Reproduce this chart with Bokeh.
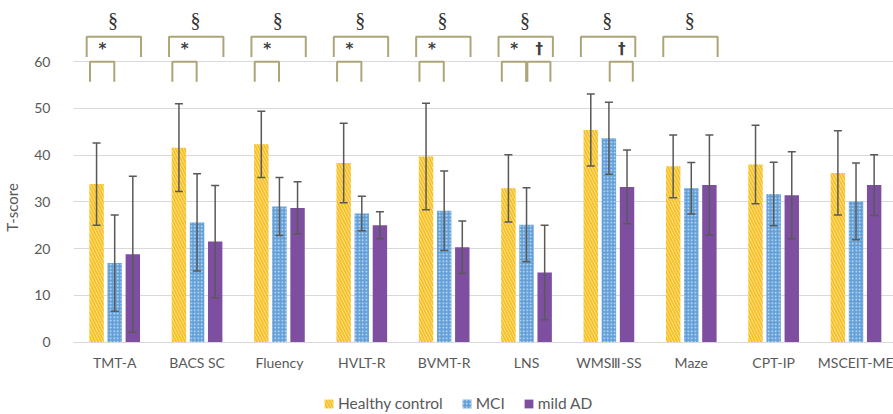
from bokeh.plotting import figure
from bokeh.models import (ColumnDataSource, Range1d, FixedTicker, Whisker, TeeHead,
                          Legend, LegendItem)
from bokeh.core.properties import value
from bokeh.embed import file_html
from bokeh.resources import INLINE

categories = ["TMT-A", "BACS SC", "Fluency", "HVLT-R", "BVMT-R", "LNS",
              "WMSⅢ-SS", "Maze", "CPT-IP", "MSCEIT-ME"]
hc = [33.8, 41.6, 42.3, 38.3, 39.7, 32.9, 45.4, 37.6, 38.0, 36.2]
hc_sd = [8.8, 9.4, 7.1, 8.5, 11.4, 7.2, 7.7, 6.7, 8.4, 9.0]
mci = [16.9, 25.6, 29.0, 27.5, 28.1, 25.1, 43.6, 32.9, 31.7, 30.1]
mci_sd = [10.3, 10.4, 6.2, 3.7, 8.5, 7.9, 7.7, 5.5, 6.8, 8.2]
ad = [18.8, 21.5, 28.7, 25.0, 20.3, 14.9, 33.2, 33.6, 31.4, 33.6]
ad_sd = [16.7, 12.0, 5.6, 2.9, 5.6, 10.1, 7.9, 10.7, 9.3, 6.5]
sig_hc_ad = [1, 1, 1, 1, 1, 1, 1, 1, 0, 0]    # §
sig_hc_mci = [1, 1, 1, 1, 1, 1, 0, 0, 0, 0]   # *
sig_mci_ad = [0, 0, 0, 0, 0, 1, 1, 0, 0, 0]   # †
yticks = [0, 10, 20, 30, 40, 50, 60]

FONT = "Lato"
GRAY = "#595959"
BR = "#ADA57A"

p = figure(width=893, height=414, x_range=Range1d(-0.5, 9.455), y_range=Range1d(-15.49, 73.08),
           output_backend="svg", toolbar_location=None,
           min_border_left=70, min_border_right=0, min_border_top=0, min_border_bottom=0)
p.outline_line_color = None
p.xgrid.visible = False
p.ygrid.ticker = FixedTicker(ticks=yticks)
p.ygrid.grid_line_color = "#d9d9d9"
p.ygrid.grid_line_width = 1

p.yaxis.ticker = FixedTicker(ticks=yticks)
p.yaxis.axis_line_color = None
p.yaxis.major_tick_line_color = None
p.yaxis.minor_tick_line_color = None
p.yaxis.major_label_standoff = 17
p.yaxis.axis_label = "T-score"
p.yaxis.axis_label_standoff = 10
p.yaxis.axis_label_text_font = FONT
p.yaxis.axis_label_text_font_size = "15px"
p.yaxis.axis_label_text_font_style = "normal"
p.yaxis.axis_label_text_color = GRAY

idx = list(range(len(categories)))
p.xaxis.fixed_location = 0
p.xaxis.ticker = FixedTicker(ticks=idx)
p.xaxis.major_label_overrides = {i: c for i, c in zip(idx, categories)}
p.xaxis.axis_line_color = "#d9d9d9"
p.xaxis.major_tick_line_color = None
p.xaxis.minor_tick_line_color = None
p.xaxis.major_label_standoff = 6
for ax in (p.xaxis, p.yaxis):
    ax.major_label_text_font = FONT
    ax.major_label_text_font_size = "14px"
    ax.major_label_text_color = GRAY

W = 0.175
OFF = 0.22
series = [
    ("Healthy control", hc, hc_sd, -OFF, dict(fill_color="#FFF3C8", hatch_pattern="\\", hatch_color="#F6C22A", hatch_scale=6, hatch_weight=2.2)),
    ("MCI", mci, mci_sd, 0.0, dict(fill_color="#629FD8", hatch_pattern=".", hatch_color="#D2E4F6", hatch_scale=3.5, hatch_weight=1.6)),
    ("mild AD", ad, ad_sd, OFF, dict(fill_color="#7E4FA0")),
]
items = []
for name, vals, sds, off, style in series:
    src = ColumnDataSource(dict(
        x=[i + off for i in idx], top=vals,
        upper=[v + s for v, s in zip(vals, sds)],
        lower=[v - s for v, s in zip(vals, sds)]))
    r = p.vbar(x="x", top="top", width=W, source=src, line_color=None, **style)
    items.append(LegendItem(label=name, renderers=[r]))
    wk = Whisker(base="x", upper="upper", lower="lower", source=src,
                 line_color=GRAY, line_width=1.5, level="overlay",
                 upper_head=TeeHead(size=8, line_color=GRAY, line_width=1.5),
                 lower_head=TeeHead(size=8, line_color=GRAY, line_width=1.5))
    p.add_layout(wk)

# significance brackets
xs, ys = [], []
sx, sy, st = [], [], []
ax_, ay_, at_ = [], [], []
for i in idx:
    if sig_hc_ad[i]:
        xs.append([i - 0.34, i - 0.34, i + 0.32, i + 0.32]); ys.append([61.0, 65.3, 65.3, 61.0])
        sx.append(i - 0.02); sy.append(68.9); st.append("§")
    if sig_hc_mci[i]:
        xs.append([i - 0.30, i - 0.30, i - 0.005, i - 0.005]); ys.append([55.7, 60.0, 60.0, 55.7])
        ax_.append(i - 0.15); ay_.append(62.8); at_.append("*")
    if sig_mci_ad[i]:
        xs.append([i + 0.01, i + 0.01, i + 0.29, i + 0.29]); ys.append([55.7, 60.0, 60.0, 55.7])
        ax_.append(i + 0.155); ay_.append(62.6); at_.append("†")
p.multi_line(xs=xs, ys=ys, line_color=BR, line_width=2)
p.text(x=sx, y=sy, text=st, text_font=value("Liberation Serif"), text_font_size="20px",
       text_color="#333333", text_align="center", text_baseline="middle")
p.text(x=ax_, y=ay_, text=at_, text_font=value("DejaVu Sans"), text_font_size="15px",
       text_font_style="bold", text_color="#404040", text_align="center", text_baseline="middle")

legend = Legend(items=items, orientation="horizontal", location=(250, 2),
                glyph_width=11, glyph_height=11, label_text_font=FONT,
                label_text_font_size="15.5px", label_text_color=GRAY,
                label_standoff=4, spacing=18, padding=0, margin=0,
                border_line_color=None, background_fill_alpha=0)
p.add_layout(legend)

open("out.html", "w").write(file_html(p, INLINE))
